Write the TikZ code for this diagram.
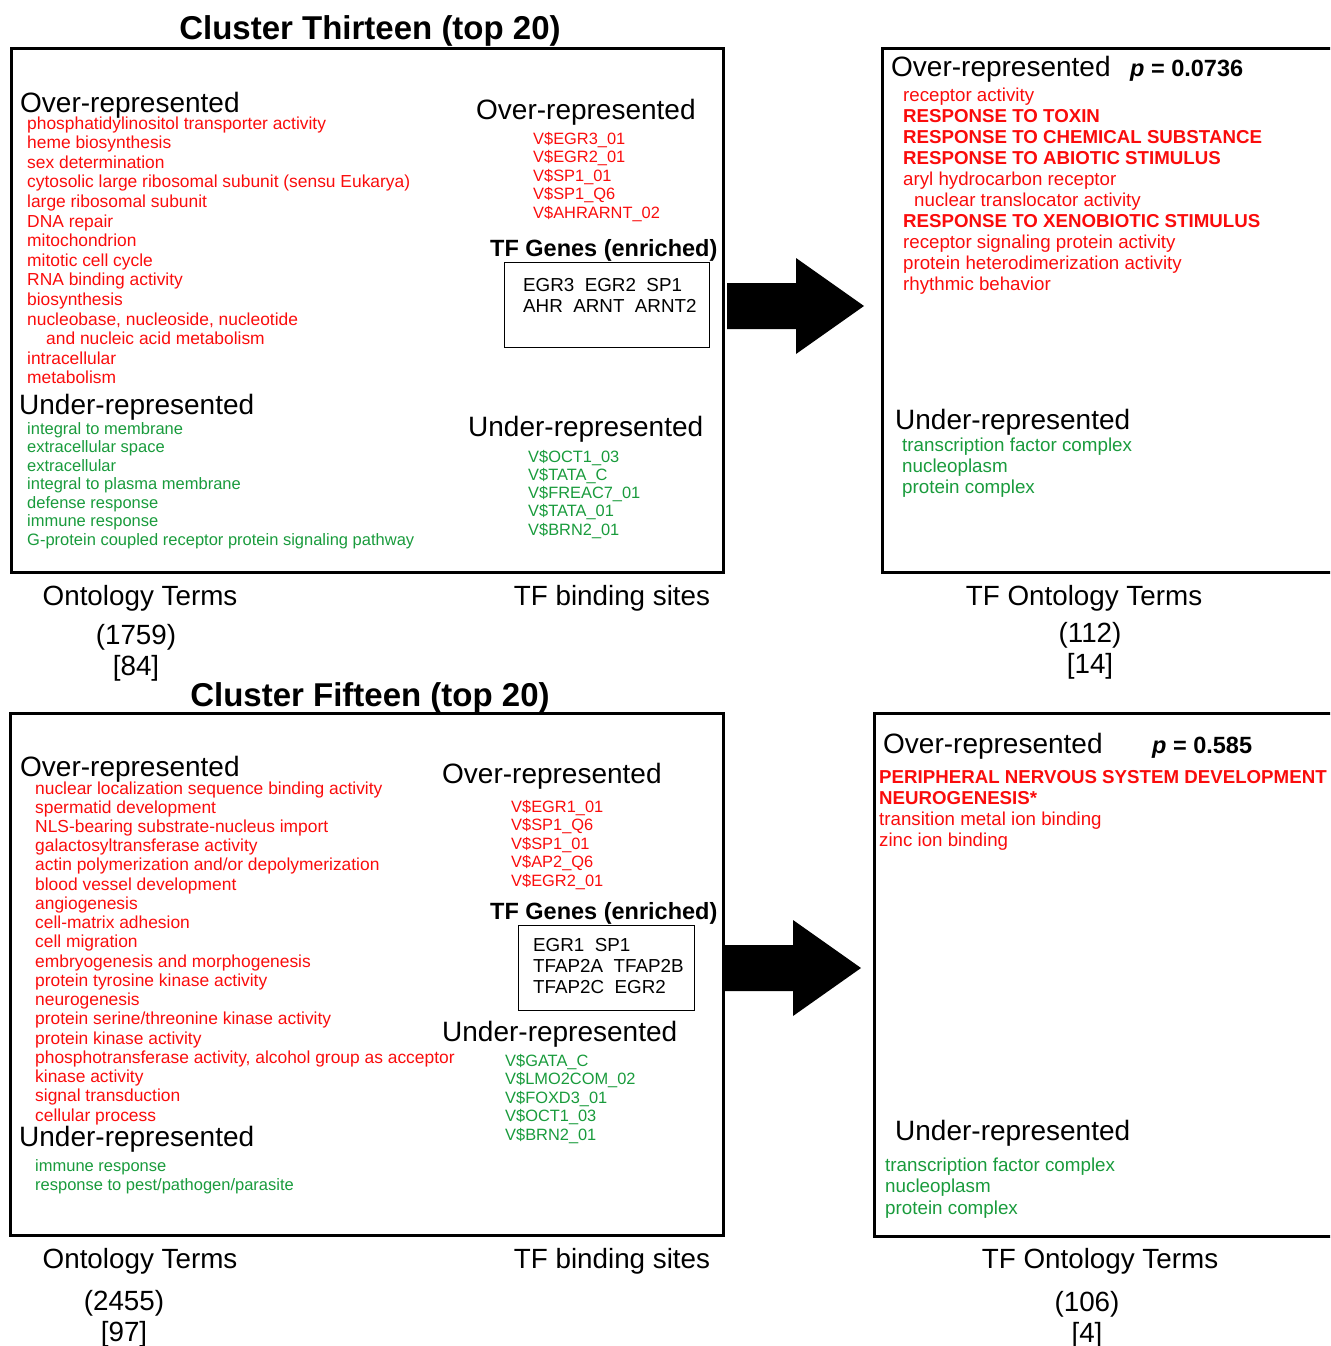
\documentclass[tikz,border=0pt]{standalone}
\usepackage{fontspec}
\setmainfont{Liberation Sans}
\definecolor{overred}{RGB}{250,12,12}
\definecolor{undergreen}{RGB}{25,155,60}
\newcommand{\termlist}[6]{\foreach \t [count=\i from 0] in {#6} {\node[#2] (#1\i) at (#3,{#4+#5*\i}) {\t};}}
\newcommand{\blockarrow}[2]{\fill[shift={(#1,#2)}] (0,-23) -- (69,-23) -- (69,-48) -- (137,0) -- (69,48) -- (69,23) -- (0,23) -- cycle}
\tikzset{
  txt/.style={inner sep=0, anchor=base west},
  clustertitle/.style={inner sep=0, anchor=base, font=\fontsize{33}{36}\selectfont\bfseries},
  head/.style={txt, font=\fontsize{28}{32}\selectfont},
  subhead/.style={txt, font=\fontsize{23.5}{26}\selectfont\bfseries},
  caption/.style={inner sep=0, anchor=base, font=\fontsize{27.8}{30}\selectfont},
  goover/.style={txt, text=overred, font=\fontsize{17.4}{20}\selectfont},
  gounder/.style={txt, text=undergreen, font=\fontsize{16.5}{19}\selectfont},
  tfover/.style={txt, text=overred, font=\fontsize{16.4}{19}\selectfont},
  tfunder/.style={txt, text=undergreen, font=\fontsize{16.4}{19}\selectfont},
  tover/.style={txt, text=overred, font=\fontsize{18.7}{21}\selectfont},
  tunder/.style={txt, text=undergreen, font=\fontsize{18.8}{21}\selectfont},
  genes/.style={txt, font=\fontsize{18.8}{21}\selectfont},
  panel/.style={draw, line width=2.7pt, inner sep=0, anchor=north west},
  genebox/.style={draw, line width=1.4pt, inner sep=0, anchor=north west}
}

\begin{document}
\begin{tikzpicture}[x=1pt, y=-1pt]
  \useasboundingbox (0,0) rectangle (1330,1346);
  \clip (0,0) rectangle (1330,1346);

  % cluster thirteen
  \node[clustertitle] (t13) at (370,40) {Cluster Thirteen (top 20)};
  \node[panel, minimum width=712, minimum height=524] (box13) at (10,47) {};
  \node[panel, minimum width=470, minimum height=524] (tfbox13) at (881,47) {};
  \blockarrow{727}{306};

  \node[head] (over13) at (20,112) {Over-represented};
  \termlist{go13o}{goover}{27}{129}{19.6}{phosphatidylinositol transporter activity, heme biosynthesis, sex determination, cytosolic large ribosomal subunit (sensu Eukarya), large ribosomal subunit, DNA repair, mitochondrion, mitotic cell cycle, RNA binding activity, biosynthesis, {nucleobase, nucleoside, nucleotide}, \hspace*{19pt}and nucleic acid metabolism, intracellular, metabolism}
  \node[head] (under13) at (19,414) {Under-represented};
  \termlist{go13u}{gounder}{27}{434}{18.5}{integral to membrane, extracellular space, extracellular, integral to plasma membrane, defense response, immune response, G-protein coupled receptor protein signaling pathway}

  \node[head] (sover13) at (476,119) {Over-represented};
  \termlist{tf13o}{tfover}{533}{144}{18.5}{V\$EGR3\_01, V\$EGR2\_01, V\$SP1\_01, V\$SP1\_Q6, V\$AHRARNT\_02}
  \node[subhead] (genes13) at (490,256) {TF Genes (enriched)};
  \node[genebox, minimum width=205, minimum height=85] (gbox13) at (504,262) {};
  \node[genes] (g13a) at (523,291) {EGR3\ \ EGR2\ \ SP1};
  \node[genes] (g13b) at (523,312) {AHR\ \ ARNT\ \ ARNT2};
  \node[head] (sunder13) at (468,436) {Under-represented};
  \termlist{tf13u}{tfunder}{528}{462}{18.3}{V\$OCT1\_03, V\$TATA\_C, V\$FREAC7\_01, V\$TATA\_01, V\$BRN2\_01}

  \node[head] (tover13) at (891,77) {Over-represented};
  \node[subhead] (p13) at (1130,77) {\textit{p} = 0.0736};
  \termlist{to13o}{tover}{903}{101}{21}{receptor activity, \textbf{RESPONSE TO TOXIN}, \textbf{RESPONSE TO CHEMICAL SUBSTANCE}, \textbf{RESPONSE TO ABIOTIC STIMULUS}, aryl hydrocarbon receptor, \hspace*{11pt}nuclear translocator activity, \textbf{RESPONSE TO XENOBIOTIC STIMULUS}, receptor signaling protein activity, protein heterodimerization activity, rhythmic behavior}
  \node[head] (tunder13) at (895,429) {Under-represented};
  \termlist{to13u}{tunder}{902}{451}{21}{transcription factor complex, nucleoplasm, protein complex}

  \node[caption] (c13a) at (140,605) {Ontology Terms};
  \node[caption] (n13a) at (136,644) {(1759)};
  \node[caption] (m13a) at (136,675) {[84]};
  \node[caption] (c13b) at (612,605) {TF binding sites};
  \node[caption] (c13c) at (1084,605) {TF Ontology Terms};
  \node[caption] (n13c) at (1090,642) {(112)};
  \node[caption] (m13c) at (1090,673) {[14]};

  % cluster fifteen
  \node[clustertitle] (t15) at (370,706) {Cluster Fifteen (top 20)};
  \node[panel, minimum width=713, minimum height=522] (box15) at (9,712) {};
  \node[panel, minimum width=480, minimum height=523] (tfbox15) at (873,712) {};
  \blockarrow{724}{968};

  \node[head] (over15) at (20,776) {Over-represented};
  \termlist{go15o}{goover}{35}{794}{19.24}{nuclear localization sequence binding activity, spermatid development, NLS-bearing substrate-nucleus import, galactosyltransferase activity, actin polymerization and/or depolymerization, blood vessel development, angiogenesis, cell-matrix adhesion, cell migration, embryogenesis and morphogenesis, protein tyrosine kinase activity, neurogenesis, protein serine/threonine kinase activity, protein kinase activity, {phosphotransferase activity, alcohol group as acceptor}, kinase activity, signal transduction, cellular process}
  \node[head] (under15) at (19,1146) {Under-represented};
  \termlist{go15u}{gounder}{35}{1171}{19}{immune response, response to pest/pathogen/parasite}

  \node[head] (sover15) at (442,783) {Over-represented};
  \termlist{tf15o}{tfover}{511}{812}{18.5}{V\$EGR1\_01, V\$SP1\_Q6, V\$SP1\_01, V\$AP2\_Q6, V\$EGR2\_01}
  \node[subhead] (genes15) at (490,919) {TF Genes (enriched)};
  \node[genebox, minimum width=176, minimum height=85] (gbox15) at (518,925) {};
  \node[genes] (g15a) at (533,951) {EGR1\ \ SP1};
  \node[genes] (g15b) at (533,972) {TFAP2A\ \ TFAP2B};
  \node[genes] (g15c) at (533,993) {TFAP2C\ \ EGR2};
  \node[head] (sunder15) at (442,1041) {Under-represented};
  \termlist{tf15u}{tfunder}{505}{1066}{18.5}{V\$GATA\_C, V\$LMO2COM\_02, V\$FOXD3\_01, V\$OCT1\_03, V\$BRN2\_01}

  \node[head] (tover15) at (883,753) {Over-represented};
  \node[subhead] (p15) at (1152,753) {\textit{p} = 0.585};
  \termlist{to15o}{tover}{879}{783}{21}{\textbf{PERIPHERAL NERVOUS SYSTEM DEVELOPMENT}, \textbf{NEUROGENESIS*}, transition metal ion binding, zinc ion binding}
  \node[head] (tunder15) at (895,1140) {Under-represented};
  \termlist{to15u}{tunder}{885}{1171}{21.5}{transcription factor complex, nucleoplasm, protein complex}

  \node[caption] (c15a) at (140,1268) {Ontology Terms};
  \node[caption] (n15a) at (124,1310) {(2455)};
  \node[caption] (m15a) at (124,1341) {[97]};
  \node[caption] (c15b) at (612,1268) {TF binding sites};
  \node[caption] (c15c) at (1100,1268) {TF Ontology Terms};
  \node[caption] (n15c) at (1087,1311) {(106)};
  \node[caption] (m15c) at (1087,1342) {[4]};
\end{tikzpicture}
\end{document}
